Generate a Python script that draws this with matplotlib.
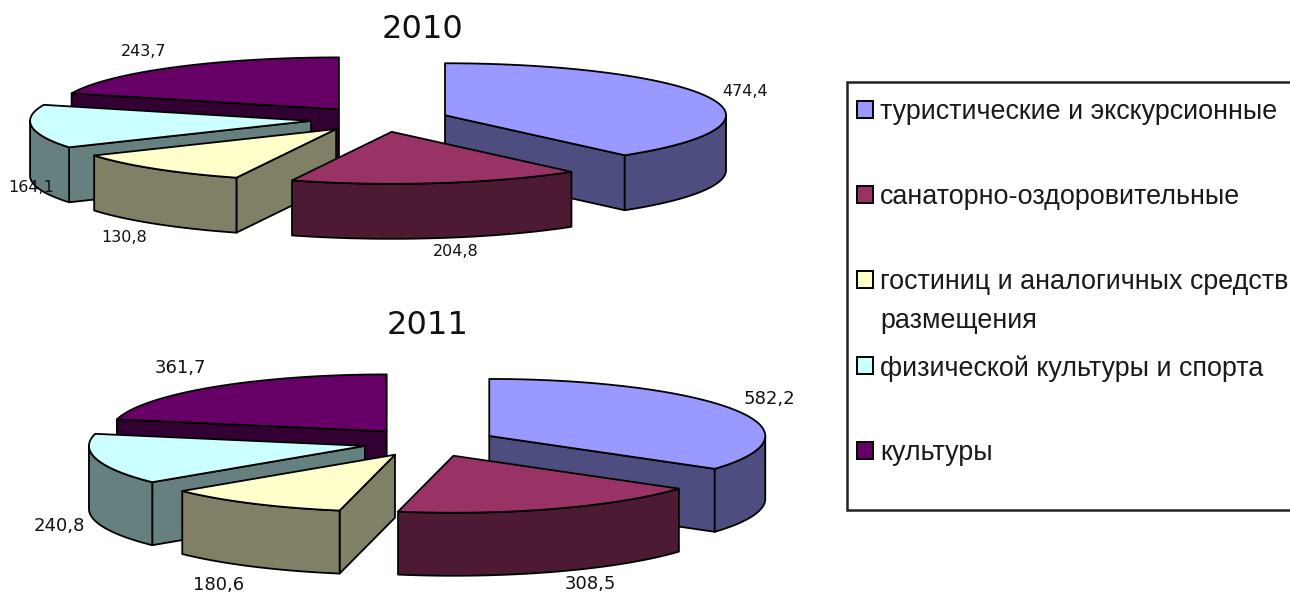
import numpy as np
import matplotlib
matplotlib.use('Agg')
import matplotlib.pyplot as plt
from matplotlib.patches import Polygon, Rectangle

# ── Data ─────────────────────────────────────────────────────
categories = ['туристические и экскурсионные', 'санаторно-оздоровительные',
              'гостиниц и аналогичных средств\nразмещения',
              'физической культуры и спорта', 'культуры']
values_2010 = [474.4, 204.8, 130.8, 164.1, 243.7]
values_2011 = [582.2, 308.5, 180.6, 240.8, 361.7]

top_colors = ['#9999FF', '#993366', '#FFFFCC', '#CCFFFF', '#660066']
side_colors = ['#4D4D80', '#4D1A33', '#808066', '#668080', '#330033']

# label centres in pixels, same order as the values
label_pos_2010 = [(745, 91), (456, 252), (124, 237), (31, 187), (144, 51)]
label_pos_2011 = [(769, 399), (590, 584), (219, 585), (59, 526), (180, 368)]
legend_y = [110, 195, 280, 366, 451]

# small sideways corrections per slice, the source is not perfectly regular
nudge_2010 = [0, -1, -2, -3.5, -3]
nudge_2011 = [0, 0, 2.5, 4, 2]

DRAW_ORDER = [4, 3, 2, 0, 1]   # back to front
LW = 1.3


def rim(cx, cy, rx, ry, a):
    return np.column_stack([cx + rx * np.sin(a), cy - ry * np.cos(a)])


def wall(ax, pts, depth, color):
    low = pts[::-1] + [0, depth]
    ax.add_patch(Polygon(np.vstack([pts, low]), closed=True, fc=color, ec='black',
                         lw=LW, joinstyle='round'))


def exploded_pie(ax, values, cx, cy, rx, ry, depth, explode, nudge):
    vals = np.array(values)
    edges = np.concatenate([[0], np.cumsum(vals)]) / vals.sum() * 2 * np.pi
    for i in DRAW_ORDER:
        a1, a2 = edges[i], edges[i + 1]
        mid = (a1 + a2) / 2
        px = cx + explode * rx * np.sin(mid) + nudge[i]
        py = cy - explode * ry * np.cos(mid)
        apex = np.array([[px, py]])

        # radial walls, only when they look towards the viewer
        if np.sin(a1) < -1e-9:
            wall(ax, np.vstack([apex, rim(px, py, rx, ry, np.array([a1]))]), depth, side_colors[i])
        if np.sin(a2) > 1e-9:
            wall(ax, np.vstack([apex, rim(px, py, rx, ry, np.array([a2]))]), depth, side_colors[i])

        # outer wall is only seen on the front half of the ellipse
        lo, hi = max(a1, np.pi / 2), min(a2, 3 * np.pi / 2)
        if hi > lo:
            wall(ax, rim(px, py, rx, ry, np.linspace(lo, hi, 60)), depth, side_colors[i])

        arc = rim(px, py, rx, ry, np.linspace(a1, a2, 120))
        ax.add_patch(Polygon(np.vstack([apex, arc]), closed=True, fc=top_colors[i],
                             ec='black', lw=LW, joinstyle='round'))


fig = plt.figure(figsize=(12.9, 5.92), dpi=100)
ax = fig.add_axes([0, 0, 1, 1])
ax.set_xlim(0, 1290)
ax.set_ylim(592, 0)
ax.axis('off')

exploded_pie(ax, values_2010, 381.6, 119.5, 281, 52, 55, 0.24, nudge_2010)
exploded_pie(ax, values_2011, 428, 442.5, 276, 57, 63, 0.25, nudge_2011)

ax.text(423, 30, '2010', ha='center', va='center', fontsize=23, color='#111111')
ax.text(428, 326, '2011', ha='center', va='center', fontsize=23, color='#111111')

for v, (x, y) in zip(values_2010, label_pos_2010):
    ax.text(x, y, f'{v:.1f}'.replace('.', ','), ha='center', va='center', fontsize=11.5, color='#111111')
for v, (x, y) in zip(values_2011, label_pos_2011):
    ax.text(x, y, f'{v:.1f}'.replace('.', ','), ha='center', va='center', fontsize=13, color='#111111')

# Legend box runs off the right edge like in the source
ax.add_patch(Rectangle((847, 82), 480, 428, fc='white', ec='#222222', lw=1.8, clip_on=True))
for name, col, y in zip(categories, top_colors, legend_y):
    ax.add_patch(Rectangle((857, y - 9), 16, 17, fc=col, ec='black', lw=1.4))
    ax.text(880, y - 11, name, ha='left', va='top', fontsize=19.4, linespacing=1.65, color='#1a1a1a',
            family=['Liberation Sans'], clip_on=True)

fig.savefig('out.png', dpi=100, facecolor='white')
